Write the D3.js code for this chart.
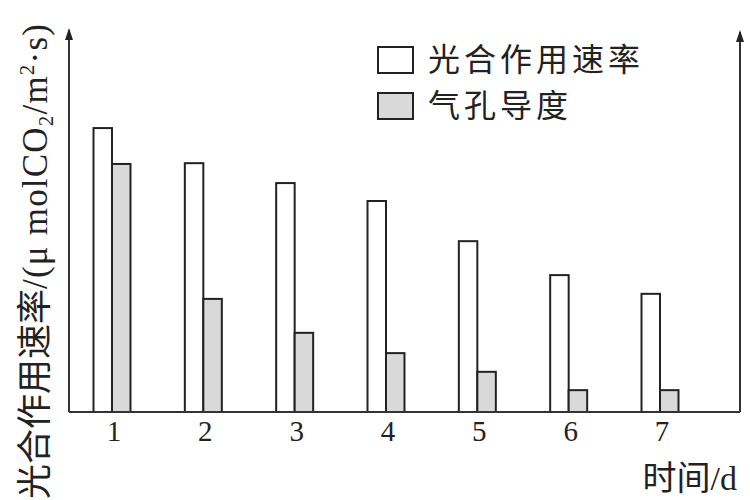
<!DOCTYPE html>
<html><head><meta charset="utf-8">
<script src="https://cdn.jsdelivr.net/npm/d3@7"></script>
<style>html,body{margin:0;padding:0;background:#fff;overflow:hidden}</style>
</head><body>
<svg id="c" width="750" height="500"></svg>
<script>
const categories = ["1","2","3","4","5","6","7"];
const photoRate = [7.28, 6.38, 5.87, 5.41, 4.38, 3.51, 3.03];
const stomatal = [6.36, 2.90, 2.03, 1.51, 1.03, 0.56, 0.56];
const seriesNames = ["光合作用速率", "气孔导度"];
const yLabelCJK = "光合作用速率";
const xLabel = "时间/d";

const svg = d3.select("#c");
const FONT = "'Liberation Serif','Noto Sans CJK SC',serif";
const base = 412, leftX = 69, rightX = 740;
const x = d3.scaleBand().domain(categories).range([93.5, 678.5]).paddingInner(0.595).paddingOuter(0);
const y = d3.scaleLinear().domain([0, 10]).range([base, 22]);
const bw = x.bandwidth() / 2;

svg.append("defs").append("marker").attr("id","arr").attr("viewBox","0 0 12 8")
  .attr("refX",10).attr("refY",4).attr("markerWidth",12).attr("markerHeight",8)
  .attr("markerUnits","userSpaceOnUse").attr("orient","auto")
  .append("path").attr("d","M0,0 L12,4 L0,8 Z").attr("fill","#222");

const stroke = "#222";
const g = svg.append("g");
g.selectAll("rect.w").data(photoRate).join("rect").attr("class","w")
  .attr("x",(d,i)=>x(categories[i])).attr("width",bw)
  .attr("y",d=>y(d)).attr("height",d=>base-y(d))
  .attr("fill","#fff").attr("stroke",stroke).attr("stroke-width",2);
g.selectAll("rect.g").data(stomatal).join("rect").attr("class","g")
  .attr("x",(d,i)=>x(categories[i])+bw).attr("width",bw)
  .attr("y",d=>y(d)).attr("height",d=>base-y(d))
  .attr("fill","#d9d9d9").attr("stroke",stroke).attr("stroke-width",2);

// axes
svg.append("line").attr("x1",leftX).attr("x2",rightX).attr("y1",base).attr("y2",base)
  .attr("stroke","#333").attr("stroke-width",2);
svg.append("line").attr("x1",leftX).attr("x2",leftX).attr("y1",base).attr("y2",y(10)+8)
  .attr("stroke","#333").attr("stroke-width",2).attr("marker-end","url(#arr)");
svg.append("line").attr("x1",rightX).attr("x2",rightX).attr("y1",base).attr("y2",y(10)+10)
  .attr("stroke","#333").attr("stroke-width",2).attr("marker-end","url(#arr)");

// tick labels
const xAxis = d3.axisBottom(x).tickSize(0).tickPadding(0);
const ax = svg.append("g").attr("transform",`translate(2,${base+8})`).call(xAxis);
ax.select(".domain").remove();
ax.selectAll("text").attr("font-family",FONT).attr("font-size",29).attr("fill","#222")
  .attr("dy","0.71em");

// x label
svg.append("text").attr("x",737).attr("y",490).attr("text-anchor","end")
  .attr("font-family",FONT).attr("font-size",34).attr("fill","#222").text(xLabel);

// y label
const yl = svg.append("text").attr("transform","translate(47,499) rotate(-90)")
  .attr("font-family",FONT).attr("font-size",35).attr("fill","#222");
yl.append("tspan").text(yLabelCJK);
const ls = 1.2;
yl.append("tspan").attr("letter-spacing",ls).text("/(μ molCO");
yl.append("tspan").attr("font-size",21).attr("dy",6).attr("letter-spacing",ls).text("2");
yl.append("tspan").attr("dy",-6).attr("letter-spacing",ls).text("/m");
yl.append("tspan").attr("font-size",21).attr("dy",-13).attr("letter-spacing",ls).text("2");
yl.append("tspan").attr("dy",13).attr("letter-spacing",ls).text("·s)");

// legend
const leg = svg.append("g");
const fills = ["#fff","#d9d9d9"];
seriesNames.forEach((n,i)=>{
  leg.append("rect").attr("x",378).attr("y",47+i*46).attr("width",35).attr("height",26)
    .attr("fill",fills[i]).attr("stroke",stroke).attr("stroke-width",2);
  leg.append("text").attr("x",428).attr("y",71+i*46).attr("font-family",FONT)
    .attr("font-size",32).attr("letter-spacing",4).attr("fill","#222").text(n);
});
</script>
</body></html>
